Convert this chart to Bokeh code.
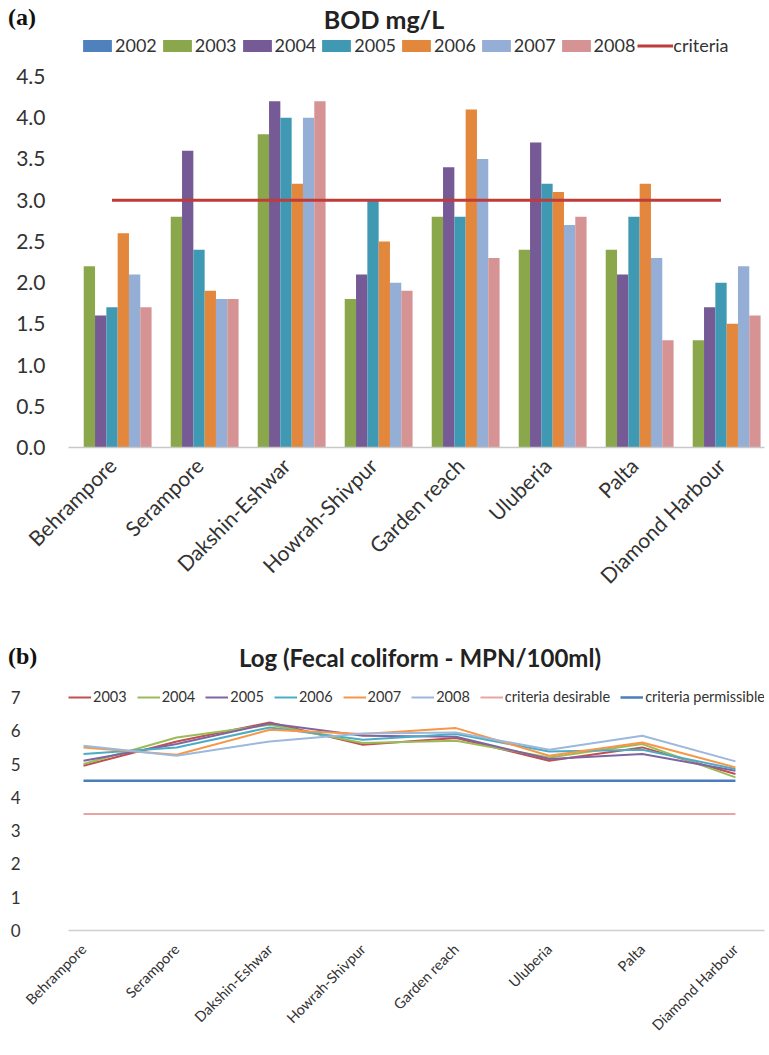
import math
from bokeh.plotting import figure
from bokeh.models import (ColumnDataSource, FixedTicker, Legend, LegendItem, Div,
                          Range1d)
from bokeh.layouts import column
from bokeh.transform import dodge
from bokeh.embed import file_html
from bokeh.resources import INLINE

nan = float("nan")

sites = ["Behrampore", "Serampore", "Dakshin-Eshwar", "Howrah-Shivpur",
         "Garden reach", "Uluberia", "Palta", "Diamond Harbour"]

# ---- (a) BOD mg/L ----
bod_years = ["2002", "2003", "2004", "2005", "2006", "2007", "2008"]
bod_2002 = [nan, nan, nan, nan, nan, nan, nan, nan]
bod_2003 = [2.2, 2.8, 3.8, 1.8, 2.8, 2.4, 2.4, 1.3]
bod_2004 = [1.6, 3.6, 4.2, 2.1, 3.4, 3.7, 2.1, 1.7]
bod_2005 = [1.7, 2.4, 4.0, 3.0, 2.8, 3.2, 2.8, 2.0]
bod_2006 = [2.6, 1.9, 3.2, 2.5, 4.1, 3.1, 3.2, 1.5]
bod_2007 = [2.1, 1.8, 4.0, 2.0, 3.5, 2.7, 2.3, 2.2]
bod_2008 = [1.7, 1.8, 4.2, 1.9, 2.3, 2.8, 1.3, 1.6]
bod_criteria = 3.0
bod_ticks = [0.0, 0.5, 1.0, 1.5, 2.0, 2.5, 3.0, 3.5, 4.0, 4.5]

# ---- (b) Log (Fecal coliform) ----
fc_years = ["2003", "2004", "2005", "2006", "2007", "2008"]
fc_2003 = [4.95, 5.68, 6.25, 5.58, 5.78, 5.10, 5.50, 4.70]
fc_2004 = [5.00, 5.80, 6.18, 5.63, 5.70, 5.20, 5.60, 4.60]
fc_2005 = [5.10, 5.60, 6.22, 5.85, 5.82, 5.15, 5.30, 4.80]
fc_2006 = [5.30, 5.50, 6.10, 5.73, 5.90, 5.38, 5.43, 4.85]
fc_2007 = [5.50, 5.28, 6.03, 5.90, 6.08, 5.25, 5.65, 4.90]
fc_2008 = [5.55, 5.25, 5.68, 5.92, 5.95, 5.43, 5.85, 5.08]
fc_desirable = 3.5
fc_permissible = 4.5
fc_ticks = [0, 1, 2, 3, 4, 5, 6, 7]

bar_colors = ["#4f81bd", "#8aa84b", "#755a96", "#4099b3", "#e3873d", "#94aed6", "#d69394"]
criteria_color = "#be3c3a"
line_colors = ["#c0504d", "#9bbb59", "#8064a2", "#4bacc6", "#f79646", "#9cb8dc"]
desirable_color = "#eaa3a3"
permissible_color = "#4a7ebb"

FONT = "Lato"
TXT = "#333333"
W = 767

xs = list(range(len(sites)))
labels_map = {i: s for i, s in enumerate(sites)}


def header(h, tag, tag_c, title, title_x, title_c, s):
    html = (
        f'<div style="position:relative;width:{W}px;height:{h}px;overflow:visible;">'
        f'<span style="position:absolute;left:8px;top:{tag_c - 12}px;line-height:24px;'
        f"font-family:'Liberation Serif',serif;font-weight:bold;font-size:24px;"
        f'color:#111111;white-space:nowrap;">{tag}</span>'
        f'<span style="position:absolute;left:{title_x}px;top:{title_c - s / 2}px;'
        f'transform:translateX(-50%);line-height:{s}px;font-family:Lato,sans-serif;'
        f'font-weight:bold;font-size:{s}px;color:#222222;white-space:nowrap;">{title}</span>'
        f'</div>')
    return Div(text=html, width=W, height=h, margin=(0, 0, 0, 0))


# ================= header (a) =================
ha = header(34, "(a)", 17, "BOD mg/L", 384, 19, 25)

# ================= figure (a) =================
pa = figure(width=W, height=600, output_backend="svg", toolbar_location=None,
            x_range=Range1d(-0.5, 7.5), y_range=Range1d(0, 5.010),
            min_border_left=68, min_border_right=3, min_border_top=0,
            min_border_bottom=187)
pa.outline_line_color = None
pa.xgrid.visible = False
pa.ygrid.visible = False

bod_data = dict(x=xs)
for yname, vals in zip(bod_years, [bod_2002, bod_2003, bod_2004, bod_2005,
                                   bod_2006, bod_2007, bod_2008]):
    bod_data["y" + yname] = vals
src_a = ColumnDataSource(bod_data)

bw = 0.13
bar_items = []
for j, yname in enumerate(bod_years):
    off = (j - 3) * bw
    r = pa.vbar(x=dodge("x", off), top="y" + yname, width=bw, bottom=0,
                source=src_a, fill_color=bar_colors[j], line_color=None)
    bar_items.append(LegendItem(label=yname, renderers=[r]))

rc = pa.line(x=xs, y=[bod_criteria] * len(xs), line_color=criteria_color, line_width=3)
bar_items.append(LegendItem(label="criteria", renderers=[rc]))

pa.xaxis.ticker = FixedTicker(ticks=xs)
pa.xaxis.major_label_overrides = labels_map
pa.xaxis.major_label_orientation = math.pi / 4
pa.xaxis.major_label_text_font = FONT
pa.xaxis.major_label_text_font_size = "21px"
pa.xaxis.major_label_text_color = TXT
pa.xaxis.major_tick_line_color = None
pa.xaxis.major_tick_out = 0
pa.xaxis.minor_tick_line_color = None
pa.xaxis.axis_line_color = "#c8c8c8"
pa.xaxis.axis_line_width = 1.5
pa.xaxis.major_label_standoff = 14

pa.yaxis.ticker = FixedTicker(ticks=bod_ticks)
pa.yaxis.major_label_overrides = {t: "%.1f" % t for t in bod_ticks}
pa.yaxis.major_label_text_font = FONT
pa.yaxis.major_label_text_font_size = "21px"
pa.yaxis.major_label_text_color = TXT
pa.yaxis.major_tick_line_color = None
pa.yaxis.major_tick_out = 0
pa.yaxis.minor_tick_line_color = None
pa.yaxis.axis_line_color = None
pa.yaxis.major_label_standoff = 23

leg_a = Legend(items=bar_items, orientation="horizontal", location=(11, 391),
               glyph_width=36, glyph_height=15, label_height=18, label_standoff=0,
               spacing=2, padding=0, margin=0,
               label_text_font=FONT, label_text_font_size="18px",
               label_text_color=TXT, border_line_color=None,
               background_fill_alpha=0)
pa.add_layout(leg_a)

# ================= header (b) =================
hb = header(46, "(b)", 22, "Log (Fecal coliform - MPN/100ml)", 420, 24, 24)

# ================= figure (b) =================
pb = figure(width=W, height=373, output_backend="svg", toolbar_location=None,
            x_range=Range1d(-0.161, 7.312), y_range=Range1d(0, 7.51),
            min_border_left=68, min_border_right=3, min_border_top=0,
            min_border_bottom=123)
pb.outline_line_color = None
pb.xgrid.visible = False
pb.ygrid.visible = False

line_items = []
for j, (yname, vals) in enumerate(zip(fc_years, [fc_2003, fc_2004, fc_2005,
                                                  fc_2006, fc_2007, fc_2008])):
    r = pb.line(x=xs, y=vals, line_color=line_colors[j], line_width=2)
    line_items.append(LegendItem(label=yname, renderers=[r]))

rd = pb.line(x=xs, y=[fc_desirable] * len(xs), line_color=desirable_color, line_width=2)
rp = pb.line(x=xs, y=[fc_permissible] * len(xs), line_color=permissible_color, line_width=2.5)
line_items.append(LegendItem(label="criteria desirable", renderers=[rd]))
line_items.append(LegendItem(label="criteria permissible", renderers=[rp]))

pb.xaxis.ticker = FixedTicker(ticks=xs)
pb.xaxis.major_label_overrides = labels_map
pb.xaxis.major_label_orientation = math.pi / 4
pb.xaxis.major_label_text_font = FONT
pb.xaxis.major_label_text_font_size = "14.5px"
pb.xaxis.major_label_text_color = TXT
pb.xaxis.major_tick_line_color = None
pb.xaxis.major_tick_out = 0
pb.xaxis.minor_tick_line_color = None
pb.xaxis.axis_line_color = "#d0d0d0"
pb.xaxis.axis_line_width = 1.5
pb.xaxis.major_label_standoff = 16

pb.yaxis.ticker = FixedTicker(ticks=fc_ticks)
pb.yaxis.major_label_text_font = FONT
pb.yaxis.major_label_text_font_size = "17px"
pb.yaxis.major_label_text_color = TXT
pb.yaxis.major_tick_line_color = None
pb.yaxis.major_tick_out = 0
pb.yaxis.minor_tick_line_color = None
pb.yaxis.axis_line_color = None
pb.yaxis.major_label_standoff = 48

leg_b = Legend(items=line_items, orientation="horizontal", location=(0, 225),
               glyph_width=23, glyph_height=14, label_height=16, label_standoff=2,
               spacing=10, padding=0, margin=0,
               label_text_font=FONT, label_text_font_size="14.5px",
               label_text_color=TXT, border_line_color=None,
               background_fill_alpha=0)
pb.add_layout(leg_b)

layout = column(ha, pa, hb, pb, spacing=0)
open("out.html", "w").write(file_html(layout, INLINE))
